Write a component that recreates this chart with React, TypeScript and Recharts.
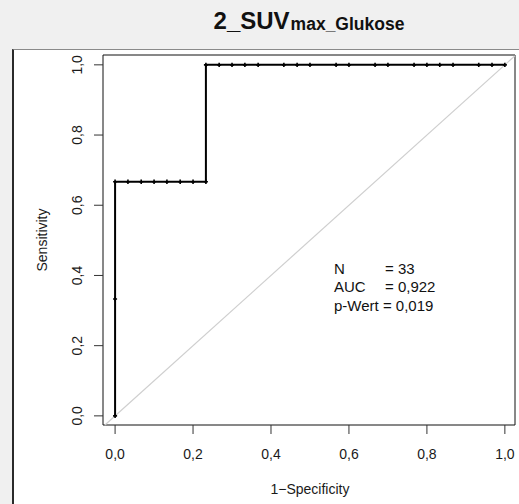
import React from "react";
import { LineChart, Line, XAxis, YAxis, ReferenceLine, ReferenceArea } from "recharts";

// ROC points (1-specificity, sensitivity), 3 positives / 30 negatives
const fpr = [
  0, 0, 0, 0.033, 0.067, 0.1, 0.133, 0.167, 0.2, 0.233,
  0.233, 0.267, 0.3, 0.333, 0.367, 0.433, 0.467, 0.5, 0.567, 0.6,
  0.667, 0.7, 0.767, 0.8, 0.833, 0.867, 0.933, 0.967, 1,
];
const tpr = [
  0, 0.333, 0.667, 0.667, 0.667, 0.667, 0.667, 0.667, 0.667, 0.667,
  1, 1, 1, 1, 1, 1, 1, 1, 1, 1,
  1, 1, 1, 1, 1, 1, 1, 1, 1,
];
const axisTicks = [0, 0.2, 0.4, 0.6, 0.8, 1];
const statLabels = ["N", "AUC"];
const statValues = ["33", "0,922"];
const pValue = "0,019";

const X_DOMAIN: [number, number] = [-0.031, 1.026];
const Y_DOMAIN: [number, number] = [-0.026, 1.028];

const data = fpr.map((x, i) => ({ x, y: tpr[i] }));

const FONT = "'Liberation Sans', Arial, sans-serif";
const fmt = (v: number) => v.toFixed(1).replace(".", ",");

const YTick = (props: any) => {
  const { x, y, payload } = props;
  const bx = x - 10;
  return (
    <text
      x={bx}
      y={y}
      transform={`rotate(-90 ${bx} ${y})`}
      textAnchor="middle"
      fontSize={14}
      fontFamily={FONT}
      fill="#1a1a1a"
    >
      {fmt(payload.value)}
    </text>
  );
};

const XTick = (props: any) => {
  const { x, y, payload } = props;
  return (
    <text x={x} y={y + 23} textAnchor="middle" fontSize={14} fontFamily={FONT} fill="#1a1a1a">
      {fmt(payload.value)}
    </text>
  );
};

const CrossDot = (props: any) => {
  const { cx, cy, index } = props;
  if (cx == null || cy == null) return null;
  return (
    <path
      key={`dot-${index}`}
      d={`M${cx - 2},${cy}H${cx + 2}M${cx},${cy - 2.2}V${cy + 2.2}`}
      stroke="#000"
      strokeWidth={1.6}
      fill="none"
    />
  );
};

export default function App() {
  return (
    <div
      style={{
        position: "fixed",
        left: 0,
        top: 0,
        width: 519,
        height: 504,
        background: "#f0f0f0",
        overflow: "hidden",
      }}
    >
      <div
        style={{
          position: "absolute",
          left: 12,
          top: 49,
          width: 520,
          height: 470,
          background: "#fff",
          borderLeft: "2px solid #2a2a2a",
          borderTop: "1px solid #8a8a8a",
        }}
      />
      <div style={{ position: "absolute", left: 0, top: 0 }}>
        <LineChart
          width={519}
          height={504}
          data={data}
          margin={{ top: 55, right: 4, bottom: 0, left: 0 }}
        >
          <XAxis
            type="number"
            dataKey="x"
            domain={X_DOMAIN}
            ticks={axisTicks}
            height={79}
            tickSize={9}
            axisLine={false}
            tickLine={{ stroke: "#333" }}
            tick={<XTick />}
            interval={0}
          />
          <YAxis
            type="number"
            dataKey="y"
            domain={Y_DOMAIN}
            ticks={axisTicks}
            width={103}
            tickSize={9}
            axisLine={false}
            tickLine={{ stroke: "#333" }}
            tick={<YTick />}
            interval={0}
          />
          <ReferenceArea
            x1={X_DOMAIN[0]}
            x2={X_DOMAIN[1]}
            y1={Y_DOMAIN[0]}
            y2={Y_DOMAIN[1]}
            fill="none"
            fillOpacity={0}
            stroke="#111"
            strokeWidth={1}
            ifOverflow="visible"
          />
          <ReferenceLine
            segment={[
              { x: -0.026, y: -0.026 },
              { x: 1.026, y: 1.026 },
            ]}
            stroke="#cfcfcf"
            strokeWidth={1.2}
            ifOverflow="visible"
          />
          <Line
            type="linear"
            dataKey="y"
            stroke="#000"
            strokeWidth={2}
            dot={<CrossDot />}
            activeDot={false}
            isAnimationActive={false}
          />
        </LineChart>
      </div>
      <svg
        width={519}
        height={504}
        style={{ position: "absolute", left: 0, top: 0, pointerEvents: "none" }}
        fontFamily={FONT}
      >
        <text x={309} y={29} textAnchor="middle" fontWeight="bold" fill="#111">
          <tspan fontSize={24}>2_SUV</tspan>
          <tspan fontSize={17.5} dx={1} dy={1}>max_Glukose</tspan>
        </text>
        <text
          x={47}
          y={240}
          transform="rotate(-90 47 240)"
          textAnchor="middle"
          fontSize={14}
          fill="#1a1a1a"
        >
          Sensitivity
        </text>
        <text x={310} y={494} textAnchor="middle" fontSize={14} fill="#1a1a1a">
          1−Specificity
        </text>
        {statLabels.map((lab, i) => (
          <g key={lab}>
            <text x={334} y={273.5 + i * 18.5} fontSize={15} fill="#111">
              {lab}
            </text>
            <text x={385} y={273.5 + i * 18.5} fontSize={15} fill="#111">
              {`= ${statValues[i]}`}
            </text>
          </g>
        ))}
        <text x={334} y={310.5} fontSize={15} fill="#111">
          {`p-Wert = ${pValue}`}
        </text>
      </svg>
    </div>
  );
}
